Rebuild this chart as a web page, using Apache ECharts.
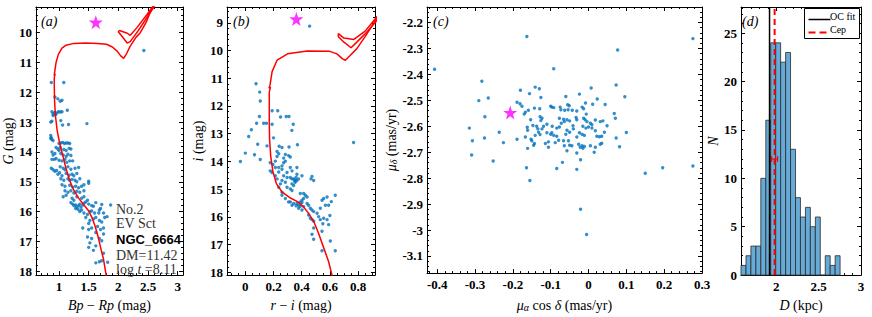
<!DOCTYPE html>
<html><head><meta charset="utf-8">
<script src="https://cdn.jsdelivr.net/npm/echarts@6/dist/echarts.min.js"></script>
<style>html,body{margin:0;padding:0;background:#fff}#c{width:872px;height:317px}</style>
</head><body><div id="c"></div>
<script>
// ---------------- DATA ----------------
// Panel (a): Bp-Rp vs G
const cmdA = [
[0.87,11.67],[1.08,11.67],[0.93,12.16],[0.98,12.22],[1.02,12.3],[1.05,12.27],
[0.88,12.65],[0.9,12.72],[0.93,12.68],[0.96,12.7],[0.99,12.65],[1.02,12.66],[1.05,12.65],[0.9,12.78],[0.94,12.75],[1.14,12.6],
[0.86,13.0],[0.88,12.97],[1.03,12.95],[1.06,13.1],[1.16,13.08],[1.47,13.05],
[0.86,13.45],[0.87,13.52],[0.88,13.58],[0.9,13.62],[0.86,13.55],
[1.0,13.72],[1.03,13.7],[1.06,13.68],[1.09,13.72],[1.12,13.7],[1.15,13.7],[1.18,13.72],
[0.95,13.85],[0.98,13.9],[1.0,13.95],[1.02,13.85],[1.08,13.92],[1.12,13.95],[1.17,13.88],[1.2,13.9],
[0.88,14.0],[0.9,14.1],[0.93,14.05],[1.03,14.05],[1.07,14.1],[1.12,14.15],[1.15,14.08],[1.2,14.12],
[0.88,14.25],[0.92,14.25],[0.95,14.22],[1.0,14.28],[1.05,14.3],[1.1,14.25],[1.13,14.35],[1.18,14.3],[1.23,14.3],
[0.87,14.55],[0.9,14.6],[0.93,14.65],[0.96,14.62],[1.02,14.5],[1.07,14.55],[1.1,14.6],[1.15,14.5],[1.2,14.58],[1.27,14.55],[1.33,14.52],
[0.98,14.75],[1.01,14.7],[1.05,14.8],[1.12,14.72],[1.17,14.78],[1.22,14.75],[1.25,14.8],[1.3,14.72],
[1.03,14.9],[1.08,14.95],[1.15,14.9],[1.18,14.95],[1.22,14.92],[1.27,14.95],[1.3,15.0],[1.35,14.9],[1.5,14.98],[1.5,15.05],[1.42,15.1],
[1.05,15.1],[1.1,15.15],[1.18,15.12],[1.23,15.18],[1.28,15.15],[1.33,15.2],[1.38,15.15],
[1.1,15.3],[1.15,15.35],[1.2,15.3],[1.25,15.38],[1.3,15.32],[1.35,15.35],[1.42,15.3],
[1.07,15.5],[1.12,15.45],[1.22,15.55],[1.3,15.5],[1.38,15.55],[1.42,15.5],
[1.2,15.7],[1.23,15.75],[1.25,15.8],[1.28,15.78],[1.3,15.85],[1.33,15.8],[1.35,15.75],[1.37,15.85],[1.4,15.78],[1.42,15.72],[1.45,15.68],[1.48,15.62],[1.28,15.9],[1.32,15.92],[1.38,15.95],[1.25,15.62],
[1.5,15.75],[1.55,15.8],[1.58,15.82],[1.62,15.7],[1.72,15.76],[1.87,15.78],[1.7,15.9],
[1.35,16.0],[1.42,16.05],[1.48,16.1],[1.52,16.0],[1.55,15.98],[1.6,16.05],[1.67,16.05],[1.75,16.05],[1.68,15.95],[1.81,16.17],
[1.45,16.2],[1.52,16.3],[1.58,16.25],[1.62,16.2],[1.68,16.3],[1.72,16.35],[1.77,16.2],[1.5,16.4],
[1.4,16.55],[1.5,16.6],[1.55,16.55],[1.65,16.5],[1.7,16.6],[1.75,16.55],[1.62,16.7],[1.75,16.75],
[1.48,16.85],[1.55,16.9],[1.68,16.9],[1.72,16.98],[1.52,17.05],
[1.5,17.2],[1.58,17.3],[1.62,17.15],[1.75,17.4],
[1.68,17.68],[1.72,17.65],[1.62,17.72],[1.82,17.7],
[2.43,10.6]
];
const starA = [[1.62,9.65]];
const isoA1 = [[1.8,18.2],[1.75,17.6],[1.7,17.2],[1.66,16.85],[1.61,16.5],[1.56,16.22],[1.5,15.98],[1.42,15.78],[1.33,15.55],[1.24,15.25],[1.17,14.9],[1.11,14.5],[1.06,14.1],[1.01,13.7],[0.97,13.3],[0.94,12.8],[0.925,12.3],[0.92,11.8],[0.92,11.5],[0.935,11.38],[0.918,11.44],[0.928,11.3],[0.95,11.0],[0.99,10.72],[1.05,10.52],[1.12,10.42],[1.25,10.36],[1.45,10.35],[1.65,10.36],[1.8,10.39],[1.9,10.48],[1.98,10.62],[2.04,10.78],[2.09,10.86],[2.14,10.7],[2.2,10.45],[2.3,10.15],[2.37,10.0],[2.47,9.65],[2.56,9.2],[2.66,8.85]];
const isoA2 = [[2.66,8.9],[2.48,9.4],[2.31,9.84],[2.2,10.09],[2.15,10.02],[2.02,9.93],[2.0,9.97],[2.06,10.12],[2.15,10.35],[2.2,10.3],[2.33,9.95],[2.48,9.5],[2.68,8.9]];

// Panel (b): r-i vs i
const cmdB = [
[-0.035,14.0],[0.0,13.7],[0.024,13.1],[0.043,12.86],[0.065,13.76],[0.076,11.2],[0.088,13.38],[0.08,12.62],[0.1,12.38],[0.102,11.5],[0.106,11.82],[0.106,13.93],[0.13,12.62],[0.15,12.62],[0.154,13.44],[0.19,12.17],[0.23,12.17],[0.19,12.66],[0.2,13.15],[0.25,12.4],[0.29,12.38],[0.31,12.38],[0.34,12.66],[0.33,12.88],[0.24,13.45],[0.26,13.5],[0.31,13.48],[0.37,13.4],[0.456,9.12],[0.768,13.32],
[0.225,13.64],[0.237,13.72],[0.284,13.75],[0.307,13.79],[0.225,13.82],[0.272,13.88],[0.319,13.84],
[0.177,14.05],[0.196,14.11],[0.213,13.99],[0.272,14.05],[0.284,13.99],[0.26,14.16],[0.237,14.22],[0.213,14.22],[0.319,14.22],[0.366,14.22],
[0.177,14.34],[0.189,14.4],[0.237,14.38],[0.26,14.28],[0.296,14.4],[0.331,14.34],[0.366,14.46],[0.402,14.52],[0.473,14.54],[0.466,14.63],[0.485,14.69],
[0.272,14.52],[0.296,14.58],[0.319,14.58],[0.331,14.63],[0.343,14.63],[0.354,14.69],[0.366,14.69],[0.378,14.63],[0.331,14.81],[0.354,14.75],[0.343,14.87],[0.36,14.58],[0.35,14.7],
[0.213,14.52],[0.225,14.63],[0.26,14.69],[0.284,14.75],[0.249,14.81],
[0.296,14.93],[0.319,14.99],[0.331,15.05],[0.237,14.93],[0.26,15.11],
[0.26,15.22],[0.284,15.34],[0.307,15.46],[0.39,15.16],[0.414,15.16],[0.426,15.22],[0.438,15.28],[0.414,15.34],[0.402,15.4],
[0.319,15.46],[0.343,15.52],[0.366,15.52],[0.378,15.58],[0.39,15.46],[0.402,15.48],[0.414,15.63],[0.438,15.52],[0.449,15.58],[0.378,15.69],[0.402,15.75],[0.331,15.58],[0.36,15.6],[0.39,15.62],
[0.461,15.69],[0.473,15.75],[0.485,15.81],[0.509,15.87],[0.532,15.69],[0.544,15.4],[0.556,15.34],[0.58,15.28],[0.568,15.58],[0.591,15.58],[0.638,15.22],[0.61,15.45],
[0.449,15.93],[0.461,16.05],[0.473,16.1],[0.485,16.16],[0.52,15.99],[0.532,16.1],[0.556,16.05],[0.58,16.1],[0.591,16.28],[0.55,16.25],[0.6,15.95],
[0.485,16.4],[0.473,16.63],[0.485,16.81],[0.544,16.52],[0.603,16.87],[0.544,17.22],[0.638,17.22]
];
const starB = [[0.362,8.86]];
const isoB1 = [[0.62,18.2],[0.59,17.6],[0.555,17.1],[0.52,16.6],[0.485,16.16],[0.45,15.88],[0.41,15.62],[0.37,15.45],[0.32,15.32],[0.26,15.1],[0.22,14.8],[0.195,14.35],[0.18,13.8],[0.172,13.2],[0.17,12.6],[0.17,12.0],[0.17,11.5],[0.178,11.32],[0.168,11.36],[0.175,11.25],[0.19,10.76],[0.225,10.35],[0.3,10.12],[0.44,10.02],[0.6,10.03],[0.65,10.12],[0.69,10.3],[0.71,10.35],[0.74,10.2],[0.79,9.94],[0.85,9.5],[0.9,9.1],[0.95,8.7],[1.0,8.3]];
const isoB2 = [[0.98,8.5],[0.85,9.3],[0.77,9.6],[0.7,9.55],[0.66,9.39],[0.66,9.5],[0.7,9.7],[0.75,9.9],[0.78,9.75],[0.85,9.4],[0.92,9.0],[1.0,8.5]];

// Panel (c): proper motions
const pmC = [
[-0.407,-2.38],[-0.092,-2.378],[-0.282,-2.426],[0.073,-2.441],[-0.141,-2.449],[-0.13,-2.455],[0.007,-2.452],[-0.18,-2.461],[-0.156,-2.474],[-0.024,-2.476],[0.096,-2.486],[-0.265,-2.491],[-0.126,-2.489],[-0.06,-2.485],[-0.29,-2.501],[0.023,-2.495],[-0.189,-2.507],[-0.181,-2.513],[-0.176,-2.523],[-0.008,-2.51],[-0.055,-2.517],[-0.051,-2.521],[-0.1,-2.523],[-0.097,-2.526],[-0.092,-2.528],[0.011,-2.515],[0.044,-2.516],[-0.017,-2.526],[-0.013,-2.532],[-0.143,-2.53],[-0.129,-2.532],[-0.159,-2.538],[-0.167,-2.546],[-0.17,-2.553],[-0.075,-2.526],[-0.073,-2.536],[-0.063,-2.538],[-0.054,-2.536],[-0.043,-2.538],[-0.031,-2.541],[-0.006,-2.553],[0.068,-2.551],[0.071,-2.569],[-0.274,-2.563],[-0.128,-2.563],[-0.123,-2.569],[-0.126,-2.578],[-0.153,-2.575],[-0.077,-2.569],[-0.066,-2.573],[-0.057,-2.575],[-0.05,-2.579],[-0.033,-2.566],[-0.031,-2.575],[-0.013,-2.569],[-0.009,-2.575],[-0.004,-2.582],[0.018,-2.576],[0.031,-2.582],[0.038,-2.579],[0.005,-2.588],[0.009,-2.594],[-0.064,-2.582],[-0.072,-2.588],[-0.11,-2.592],[-0.119,-2.6],[-0.123,-2.61],[-0.147,-2.597],[-0.137,-2.6],[-0.315,-2.607],[-0.162,-2.604],[-0.161,-2.615],[-0.096,-2.6],[-0.084,-2.607],[-0.077,-2.603],[-0.041,-2.598],[-0.04,-2.61],[-0.015,-2.6],[-0.007,-2.607],[0.0,-2.603],[0.009,-2.607],[0.049,-2.598],[-0.236,-2.623],[-0.189,-2.65],[-0.134,-2.61],[-0.132,-2.623],[-0.128,-2.632],[-0.141,-2.635],[-0.11,-2.625],[-0.1,-2.631],[-0.092,-2.635],[-0.084,-2.638],[-0.097,-2.625],[-0.057,-2.615],[-0.05,-2.623],[-0.06,-2.631],[-0.024,-2.625],[-0.017,-2.631],[-0.011,-2.635],[-0.031,-2.641],[0.018,-2.617],[0.022,-2.638],[0.029,-2.64],[0.035,-2.638],[0.042,-2.623],[0.1,-2.624],[-0.275,-2.645],[-0.167,-2.641],[0.073,-2.645],[-0.307,-2.656],[-0.225,-2.663],[-0.152,-2.65],[-0.15,-2.656],[-0.143,-2.666],[-0.145,-2.673],[-0.114,-2.666],[-0.106,-2.66],[-0.088,-2.663],[-0.079,-2.654],[-0.066,-2.656],[-0.053,-2.656],[-0.044,-2.675],[-0.05,-2.673],[-0.026,-2.669],[-0.017,-2.675],[-0.011,-2.678],[-0.022,-2.681],[-0.015,-2.685],[0.005,-2.675],[0.018,-2.681],[0.031,-2.669],[0.035,-2.665],[0.082,-2.679],[-0.161,-2.685],[-0.106,-2.681],[-0.064,-2.675],[-0.057,-2.694],[0.015,-2.7],[-0.309,-2.711],[-0.031,-2.703],[-0.069,-2.739],[-0.021,-2.729],[-0.252,-2.734],[-0.164,-2.76],[-0.084,-2.763],[-0.031,-2.766],[-0.155,-2.809],[0.15,-2.781],[0.196,-2.76],[0.276,-2.753],[-0.021,-2.92],[-0.005,-3.017],[0.077,-2.306],[-0.163,-2.254],[0.276,-2.262]
];
const starC = [[-0.207,-2.547]];

// Panel (d): distance histogram
const binEdges = [1.583,1.642,1.700,1.759,1.817,1.876,1.934,1.993,2.051,2.110,2.168,2.227,2.285,2.344,2.402,2.461,2.519,2.578,2.636,2.695,2.753];
const binCounts = [1,2,3,3,10,16,24,24,22,23,13,8,6,7,5,6,0,2,1,2];
const ocFitD = 1.92;
const cepD = 1.98, cepErr = 0.035, cepErrY = 12;
const legendNames = ['OC fit', 'Cep'];

// Tick labels
const ticksAx = [1,1.5,2,2.5,3];
const ticksAy = [10,11,12,13,14,15,16,17,18];
const ticksBx = [0,0.2,0.4,0.6,0.8];
const ticksBy = [9,10,11,12,13,14,15,16,17,18];
const ticksCx = [-0.4,-0.3,-0.2,-0.1,0,0.1,0.2,0.3];
const ticksCy = [-3.1,-3,-2.9,-2.8,-2.7,-2.6,-2.5,-2.4,-2.3,-2.2];
const ticksDx = [2,2.5,3];
const ticksDy = [0,5,10,15,20,25];

// ---------------- CHART ----------------
const SERIF = 'Liberation Serif';
const SANS = 'Liberation Sans';
function steps(a, b, s) { const out = []; const n = Math.round((b - a) / s); for (let i = 0; i <= n; i++) out.push(+(a + i * s).toFixed(6)); return out; }

const xAxis = [], yAxis = [];
const nameRich = {
  r: { fontFamily: SERIF, fontSize: 14, color: '#000' },
  i: { fontFamily: SERIF, fontSize: 14, fontStyle: 'italic', color: '#000' },
  s: { fontFamily: SERIF, fontSize: 10, fontStyle: 'italic', color: '#000', verticalAlign: 'bottom', lineHeight: 10, padding: [6, 0, 0, 0] }
};
function buildAxes(g, dim, cfg) {
  const arr = dim === 'x' ? xAxis : yAxis;
  const sides = dim === 'x' ? ['bottom', 'top'] : ['left', 'right'];
  const mainIdx = arr.length;
  const fmt = v => { const t = cfg.major.find(m => Math.abs(m - v) < 1e-6); return t === undefined ? '' : String(t); };
  sides.forEach((pos, si) => {
    arr.push({
      type: 'value', gridIndex: g, position: pos, min: cfg.min, max: cfg.max, inverse: !!cfg.inverse,
      splitNumber: cfg.split, minInterval: cfg.step, maxInterval: cfg.step,
      axisLine: { show: true, onZero: false, lineStyle: { color: '#000', width: 1 } },
      axisTick: { show: true, inside: true, length: 4, lineStyle: { color: '#000', width: 1 } },
      axisLabel: { show: si === 0, formatter: fmt, showMinLabel: true, showMaxLabel: true,
        fontFamily: SERIF, fontWeight: 'bold', fontSize: 13, color: '#000', margin: dim === 'x' ? 5 : 4 },
      splitLine: { show: false },
      name: si === 0 ? cfg.name : '', nameLocation: 'middle', nameGap: cfg.nameGap,
      nameTextStyle: { fontFamily: SERIF, fontSize: 14, color: '#000', rich: nameRich }
    });
    arr.push({
      type: 'value', gridIndex: g, position: pos, min: cfg.min, max: cfg.max, inverse: !!cfg.inverse,
      axisLine: { show: false, onZero: false },
      axisTick: { show: true, inside: true, length: 2, customValues: cfg.minor, lineStyle: { color: '#000', width: 1 } },
      axisLabel: { show: false }, splitLine: { show: false }
    });
  });
  return mainIdx;
}

const grid = [
  { left: 35, top: 7, width: 148, height: 275 },
  { left: 227, top: 7, width: 148, height: 275 },
  { left: 427, top: 7, width: 275, height: 275 },
  { left: 741, top: 7, width: 120, height: 275 }
];

const xa = buildAxes(0, 'x', { min: 0.61, max: 3.09, step: 0.5, split: 5, major: ticksAx, minor: steps(0.7, 3.0, 0.1), name: '{i|Bp}{r| − }{i|Rp}{r| (mag)}', nameGap: 18 });
const ya = buildAxes(0, 'y', { min: 9.14, max: 18.13, step: 1, split: 9, inverse: true, major: ticksAy, minor: steps(9.2, 18.0, 0.2), name: '{i|G}{r| (mag)}', nameGap: 18 });
const xb = buildAxes(1, 'x', { min: -0.13, max: 0.92, step: 0.2, split: 5, major: ticksBx, minor: steps(-0.1, 0.9, 0.05), name: '{i|r}{r| − }{i|i}{r| (mag)}', nameGap: 18 });
const yb = buildAxes(1, 'y', { min: 8.43, max: 18.1, step: 1, split: 10, inverse: true, major: ticksBy, minor: steps(8.6, 18.0, 0.2), name: '{i|i}{r| (mag)}', nameGap: 22 });
const xc = buildAxes(2, 'x', { min: -0.427, max: 0.3, step: 0.1, split: 7, major: ticksCx, minor: steps(-0.42, 0.3, 0.02), name: '{i|μ}{s|α}{r| cos }{i|δ}{r| (mas/yr)}', nameGap: 18 });
const yc = buildAxes(2, 'y', { min: -3.166, max: -2.14, step: 0.1, split: 10, major: ticksCy, minor: steps(-3.16, -2.14, 0.02), name: '{i|μ}{s|δ}{r| (mas/yr)}', nameGap: 26 });
const xd = buildAxes(3, 'x', { min: 1.583, max: 3.0, step: 0.5, split: 3, major: ticksDx, minor: steps(1.6, 3.0, 0.1), name: '{i|D}{r| (kpc)}', nameGap: 18 });
const yd = buildAxes(3, 'y', { min: 0, max: 27.7, step: 5, split: 5, major: ticksDy, minor: steps(0, 27, 1), name: '{i|N}', nameGap: 21 });

const STAR = 'path://M50,0 L61.8,35.1 L98.1,35.1 L68.8,56.8 L79.4,91.2 L50,70 L20.6,91.2 L31.2,56.8 L1.9,35.1 L38.2,35.1 Z';
const BLUE = '#0072BD';
function dots(xi, yi, data) { return { type: 'scatter', xAxisIndex: xi, yAxisIndex: yi, data, symbolSize: 3.4, itemStyle: { color: BLUE }, silent: true, z: 3 }; }
function star(xi, yi, data) { return { type: 'scatter', xAxisIndex: xi, yAxisIndex: yi, data, symbol: STAR, symbolSize: 14, itemStyle: { color: '#FF00FF' }, silent: true, z: 6 }; }
function iso(xi, yi, data) { return { type: 'line', xAxisIndex: xi, yAxisIndex: yi, data, showSymbol: false, symbol: 'none', clip: true, lineStyle: { color: '#FF0000', width: 1.5 }, silent: true, z: 4 }; }

const histData = binCounts.map((c, i) => [binEdges[i], binEdges[i + 1], c]);

const series = [
  dots(xa, ya, cmdA), iso(xa, ya, isoA1), iso(xa, ya, isoA2), star(xa, ya, starA),
  dots(xb, yb, cmdB), iso(xb, yb, isoB1), iso(xb, yb, isoB2), star(xb, yb, starB),
  dots(xc, yc, pmC), star(xc, yc, starC),
  {
    type: 'custom', xAxisIndex: xd, yAxisIndex: yd, data: histData, silent: true, z: 2,
    encode: { x: [0, 1], y: 2 },
    renderItem: function (params, api) {
      const p0 = api.coord([api.value(0), 0]);
      const p1 = api.coord([api.value(1), api.value(2)]);
      return { type: 'rect', shape: { x: p0[0], y: p1[1], width: p1[0] - p0[0], height: p0[1] - p1[1] },
        style: { fill: '#66AAD7', stroke: '#2a2a2a', lineWidth: 0.8 } };
    }
  },
  { name: legendNames[0], type: 'line', xAxisIndex: xd, yAxisIndex: yd, data: [[ocFitD, 0], [ocFitD, 27.7]], symbol: 'none', showSymbol: false,
    lineStyle: { color: '#000', width: 1.5 }, silent: true, z: 5 },
  { name: legendNames[1], type: 'line', xAxisIndex: xd, yAxisIndex: yd, data: [[cepD, 0], [cepD, 27.7]], symbol: 'none', showSymbol: false,
    lineStyle: { color: '#FF0000', width: 2, type: [6, 4] }, silent: true, z: 5 },
  {
    type: 'custom', xAxisIndex: xd, yAxisIndex: yd, data: [[cepD - cepErr, cepD + cepErr, cepErrY]], silent: true, z: 6,
    renderItem: function (params, api) {
      const a = api.coord([api.value(0), api.value(2)]);
      const b = api.coord([api.value(1), api.value(2)]);
      const st = { stroke: '#FF0000', lineWidth: 1.2 };
      return { type: 'group', children: [
        { type: 'line', shape: { x1: a[0], y1: a[1], x2: b[0], y2: b[1] }, style: st },
        { type: 'line', shape: { x1: a[0], y1: a[1] - 3, x2: a[0], y2: a[1] + 3 }, style: st },
        { type: 'line', shape: { x1: b[0], y1: b[1] - 3, x2: b[0], y2: b[1] + 3 }, style: st }
      ] };
    }
  }
];

const txt = (left, top, text, extra) => Object.assign({ type: 'text', left, top, silent: true, z: 100,
  style: Object.assign({ text, fontFamily: SERIF, fontSize: 14, fill: '#000' }, extra || {}) });

const chart = echarts.init(document.getElementById('c'), null, { renderer: 'svg', width: 872, height: 317 });
chart.setOption({
  animation: false,
  backgroundColor: '#fff',
  grid, xAxis, yAxis, series,
  graphic: [
    txt(41, 14, '(a)', { fontStyle: 'italic' }),
    txt(233, 14, '(b)', { fontStyle: 'italic' }),
    txt(433, 14, '(c)', { fontStyle: 'italic' }),
    txt(742, 14, '(d)', { fontStyle: 'italic' }),
    txt(116, 202, 'No.2', { fill: '#333' }),
    txt(116, 216, 'EV Sct', { fill: '#333' }),
    txt(116, 233, 'NGC_6664', { fontFamily: SANS, fontWeight: 'bold', fontSize: 13, fill: '#000' }),
    txt(116, 248, 'DM=11.42', { fill: '#333' }),
    txt(116, 262, 'log {i|t} =8.11', { fill: '#333', rich: { i: { fontStyle: 'italic', fontFamily: SERIF, fontSize: 14, fill: '#333' } } }),
    // legend box (d)
    { type: 'rect', left: 804, top: 8, silent: true, z: 100, shape: { width: 55, height: 30 }, style: { fill: '#fff', stroke: '#000', lineWidth: 1 } },
    { type: 'line', left: 806, top: 17, silent: true, z: 101, shape: { x1: 0, y1: 0, x2: 22, y2: 0 }, style: { stroke: '#000', lineWidth: 1.5 } },
    { type: 'line', left: 806, top: 30, silent: true, z: 101, shape: { x1: 0, y1: 0, x2: 21, y2: 0 }, style: { stroke: '#FF0000', lineWidth: 2, lineDash: [7, 4] } },
    txt(830, 11, legendNames[0], { fontSize: 10 }),
    txt(830, 24, legendNames[1], { fontSize: 10 })
  ]
});
</script></body></html>
